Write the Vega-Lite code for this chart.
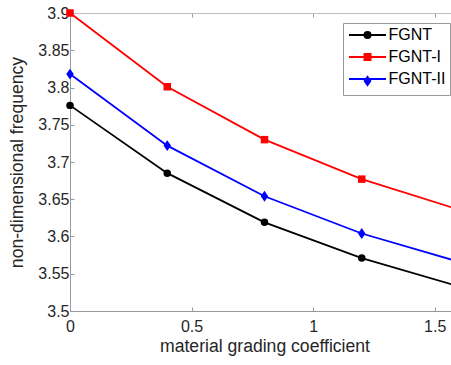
{
  "$schema": "https://vega.github.io/schema/vega-lite/v6.json",
  "width": 389,
  "height": 298,
  "autosize": {"type": "none"},
  "padding": {"left": 70, "top": 13, "right": 0, "bottom": 54},
  "config": {
    "view": {"stroke": null},
    "font": "Liberation Sans",
    "axis": {
      "labelFont": "Liberation Sans",
      "titleFont": "Liberation Sans",
      "labelFontSize": 16,
      "titleFontSize": 17.6,
      "labelColor": "#262626",
      "titleColor": "#262626",
      "titleFontWeight": "normal",
      "domainColor": "#999999",
      "tickColor": "#999999",
      "tickSize": -4,
      "labelOverlap": false,
      "labelFlush": false,
      "grid": false
    }
  },
  "data": {
    "values": [
      {"series": "FGNT", "x": 0, "y": 3.776},
      {"series": "FGNT", "x": 0.4, "y": 3.685},
      {"series": "FGNT", "x": 0.8, "y": 3.619},
      {"series": "FGNT", "x": 1.2, "y": 3.571},
      {"series": "FGNT", "x": 1.6, "y": 3.533},
      {"series": "FGNT-I", "x": 0, "y": 3.9},
      {"series": "FGNT-I", "x": 0.4, "y": 3.801},
      {"series": "FGNT-I", "x": 0.8, "y": 3.73},
      {"series": "FGNT-I", "x": 1.2, "y": 3.677},
      {"series": "FGNT-I", "x": 1.6, "y": 3.636},
      {"series": "FGNT-II", "x": 0, "y": 3.818},
      {"series": "FGNT-II", "x": 0.4, "y": 3.722},
      {"series": "FGNT-II", "x": 0.8, "y": 3.654},
      {"series": "FGNT-II", "x": 1.2, "y": 3.604},
      {"series": "FGNT-II", "x": 1.6, "y": 3.566}
    ]
  },
  "resolve": {"axis": {"x": "independent"}},
  "layer": [
    {
      "mark": {"type": "line", "strokeWidth": 1.8},
      "encoding": {
        "x": {
          "field": "x", "type": "quantitative",
          "scale": {"domain": [0, 1.6], "nice": false, "zero": false},
          "axis": {"values": [0, 0.5, 1, 1.5], "format": "~g", "title": "material grading coefficient", "labelPadding": 11, "titlePadding": 3}
        },
        "y": {
          "field": "y", "type": "quantitative",
          "scale": {"domain": [3.5, 3.9], "nice": false, "zero": false},
          "axis": {"values": [3.5, 3.55, 3.6, 3.65, 3.7, 3.75, 3.8, 3.85, 3.9], "format": ".2~f", "title": "non-dimensional frequency", "labelPadding": 5, "titlePadding": 11}
        },
        "stroke": {
          "field": "series", "type": "nominal",
          "scale": {"domain": ["FGNT", "FGNT-I", "FGNT-II"], "range": ["#000000", "#ff0000", "#0000ff"]},
          "legend": {
            "orient": "none", "legendX": 273, "legendY": 10, "title": null,
            "labelFontSize": 16, "labelColor": "#000000", "labelFont": "Liberation Sans",
            "padding": 4, "rowPadding": 6, "symbolSize": 64, "symbolStrokeWidth": 1.8,
            "symbolType": "M-4.625,0H4.625",
            "labelOffset": 13, "symbolOffset": 12.5
          }
        }
      }
    },
    {
      "mark": {"type": "point", "filled": true, "opacity": 1, "size": 56},
      "encoding": {
        "x": {
          "field": "x", "type": "quantitative",
          "axis": {"orient": "top", "values": [0, 0.5, 1, 1.5], "labels": false, "title": null, "domainColor": "#c0c0c0", "tickColor": "#a0a0a0"}
        },
        "y": {
          "field": "y", "type": "quantitative",
          "axis": {"values": [3.5, 3.55, 3.6, 3.65, 3.7, 3.75, 3.8, 3.85, 3.9], "format": ".2~f", "title": "non-dimensional frequency", "labelPadding": 5, "titlePadding": 11}
        },
        "fill": {
          "field": "series", "type": "nominal",
          "scale": {"range": ["#000000", "#ff0000", "#0000ff"]},
          "legend": {
            "orient": "none", "legendX": 273, "legendY": 10, "title": null,
            "labelFontSize": 16, "labelColor": "transparent", "labelFont": "Liberation Sans",
            "strokeColor": "#999999",
            "padding": 4, "rowPadding": 6, "symbolSize": 64, "symbolStrokeWidth": 1.8,
            "labelOffset": 13, "symbolOffset": 12.5
          }
        },
        "shape": {
          "field": "series", "type": "nominal",
          "scale": {"range": ["circle", "square", "M0,-1.45L1,0L0,1.45L-1,0Z"]},
          "legend": {
            "orient": "none", "legendX": 273, "legendY": 10, "title": null,
            "labelFontSize": 16, "labelColor": "transparent", "labelFont": "Liberation Sans",
            "strokeColor": "#999999",
            "padding": 4, "rowPadding": 6, "symbolSize": 64, "symbolStrokeWidth": 1.8,
            "labelOffset": 13, "symbolOffset": 12.5
          }
        }
      }
    }
  ]
}
